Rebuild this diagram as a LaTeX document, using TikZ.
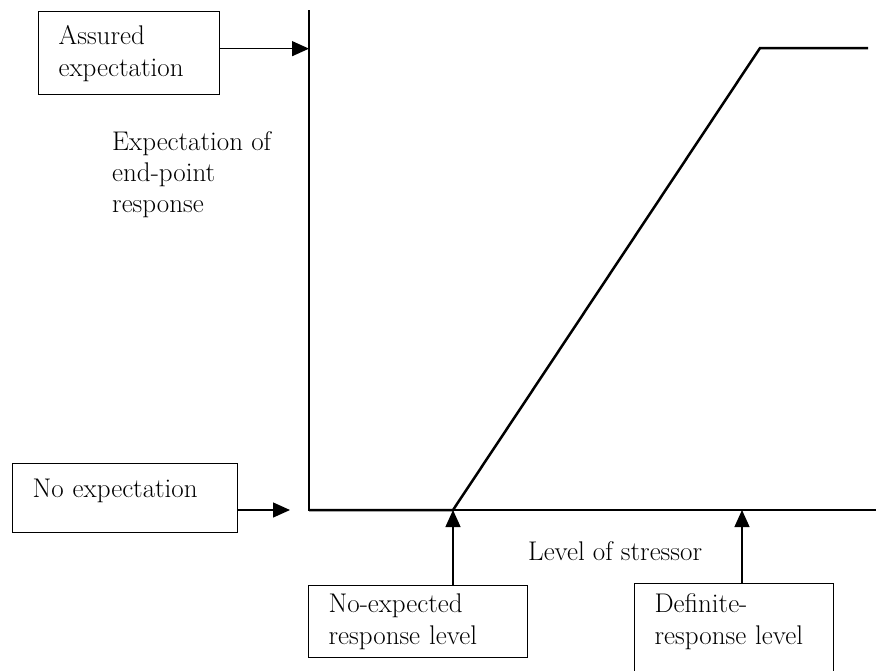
\documentclass[tikz,border=0pt]{standalone}
\usepackage{tikz}
\usetikzlibrary{arrows.meta,shapes}
\tikzset{
    labelbox/.style={rectangle, draw, line width=1.3pt, align=left, inner xsep=20pt,
      font=\fontsize{27}{32}\selectfont},
    axislabel/.style={align=left, inner sep=0pt, font=\fontsize{27}{31}\selectfont},
    pointer/.style={-{Triangle[length=17pt,width=15pt]}, line width=1.3pt},
}

\begin{document}
\begin{tikzpicture}[x=1pt,y=-1pt]
\clip (0,0) rectangle (876,670);

% axes and curve
\coordinate (origin) at (309,510);
\coordinate (ytop) at (309,10);
\coordinate (xend) at (876,510);
\coordinate (kinklow) at (453,510);
\coordinate (kinkhigh) at (760,48);
\coordinate (plateau) at (868,48);
\coordinate (defmark) at (742,510);
\coordinate (noexptip) at (290,510);
\draw[line width=1.3pt] (ytop) -- (origin) -- (xend);
\draw[line width=2.5pt, line join=miter] (origin) -- (kinklow) -- (kinkhigh) -- (plateau);

% boxes
\node[labelbox, anchor=north west, text width=141pt, minimum height=83pt] (assured) at (38,11) {Assured\\expectation};
\node[labelbox, anchor=north west, text width=185pt, minimum height=69pt, text depth=20pt] (noexp) at (12,463) {No expectation};
\node[labelbox, anchor=north west, text width=179pt, minimum height=72pt] (noresp) at (308,585) {No-expected\\response level};
\node[labelbox, anchor=north west, text width=159pt, text height=26pt, text depth=120pt] (defresp) at (634,583) {Definite-\\response level};

% axis texts
\node[axislabel, anchor=base west] (ylabel) at (112,212) {Expectation of\\end-point\\response};
\node[axislabel, anchor=base west] (xlabel) at (528,560) {Level of stressor};

% pointers
\draw[pointer] ([yshift=4.5pt]assured.east) -- ([yshift=4.5pt]assured.east -| origin);
\draw[pointer] (noexp.east |- noexptip) -- (noexptip);
\draw[pointer] (noresp.north -| kinklow) -- (kinklow);
\draw[pointer] (defresp.north -| defmark) -- (defmark);
\end{tikzpicture}
\end{document}
